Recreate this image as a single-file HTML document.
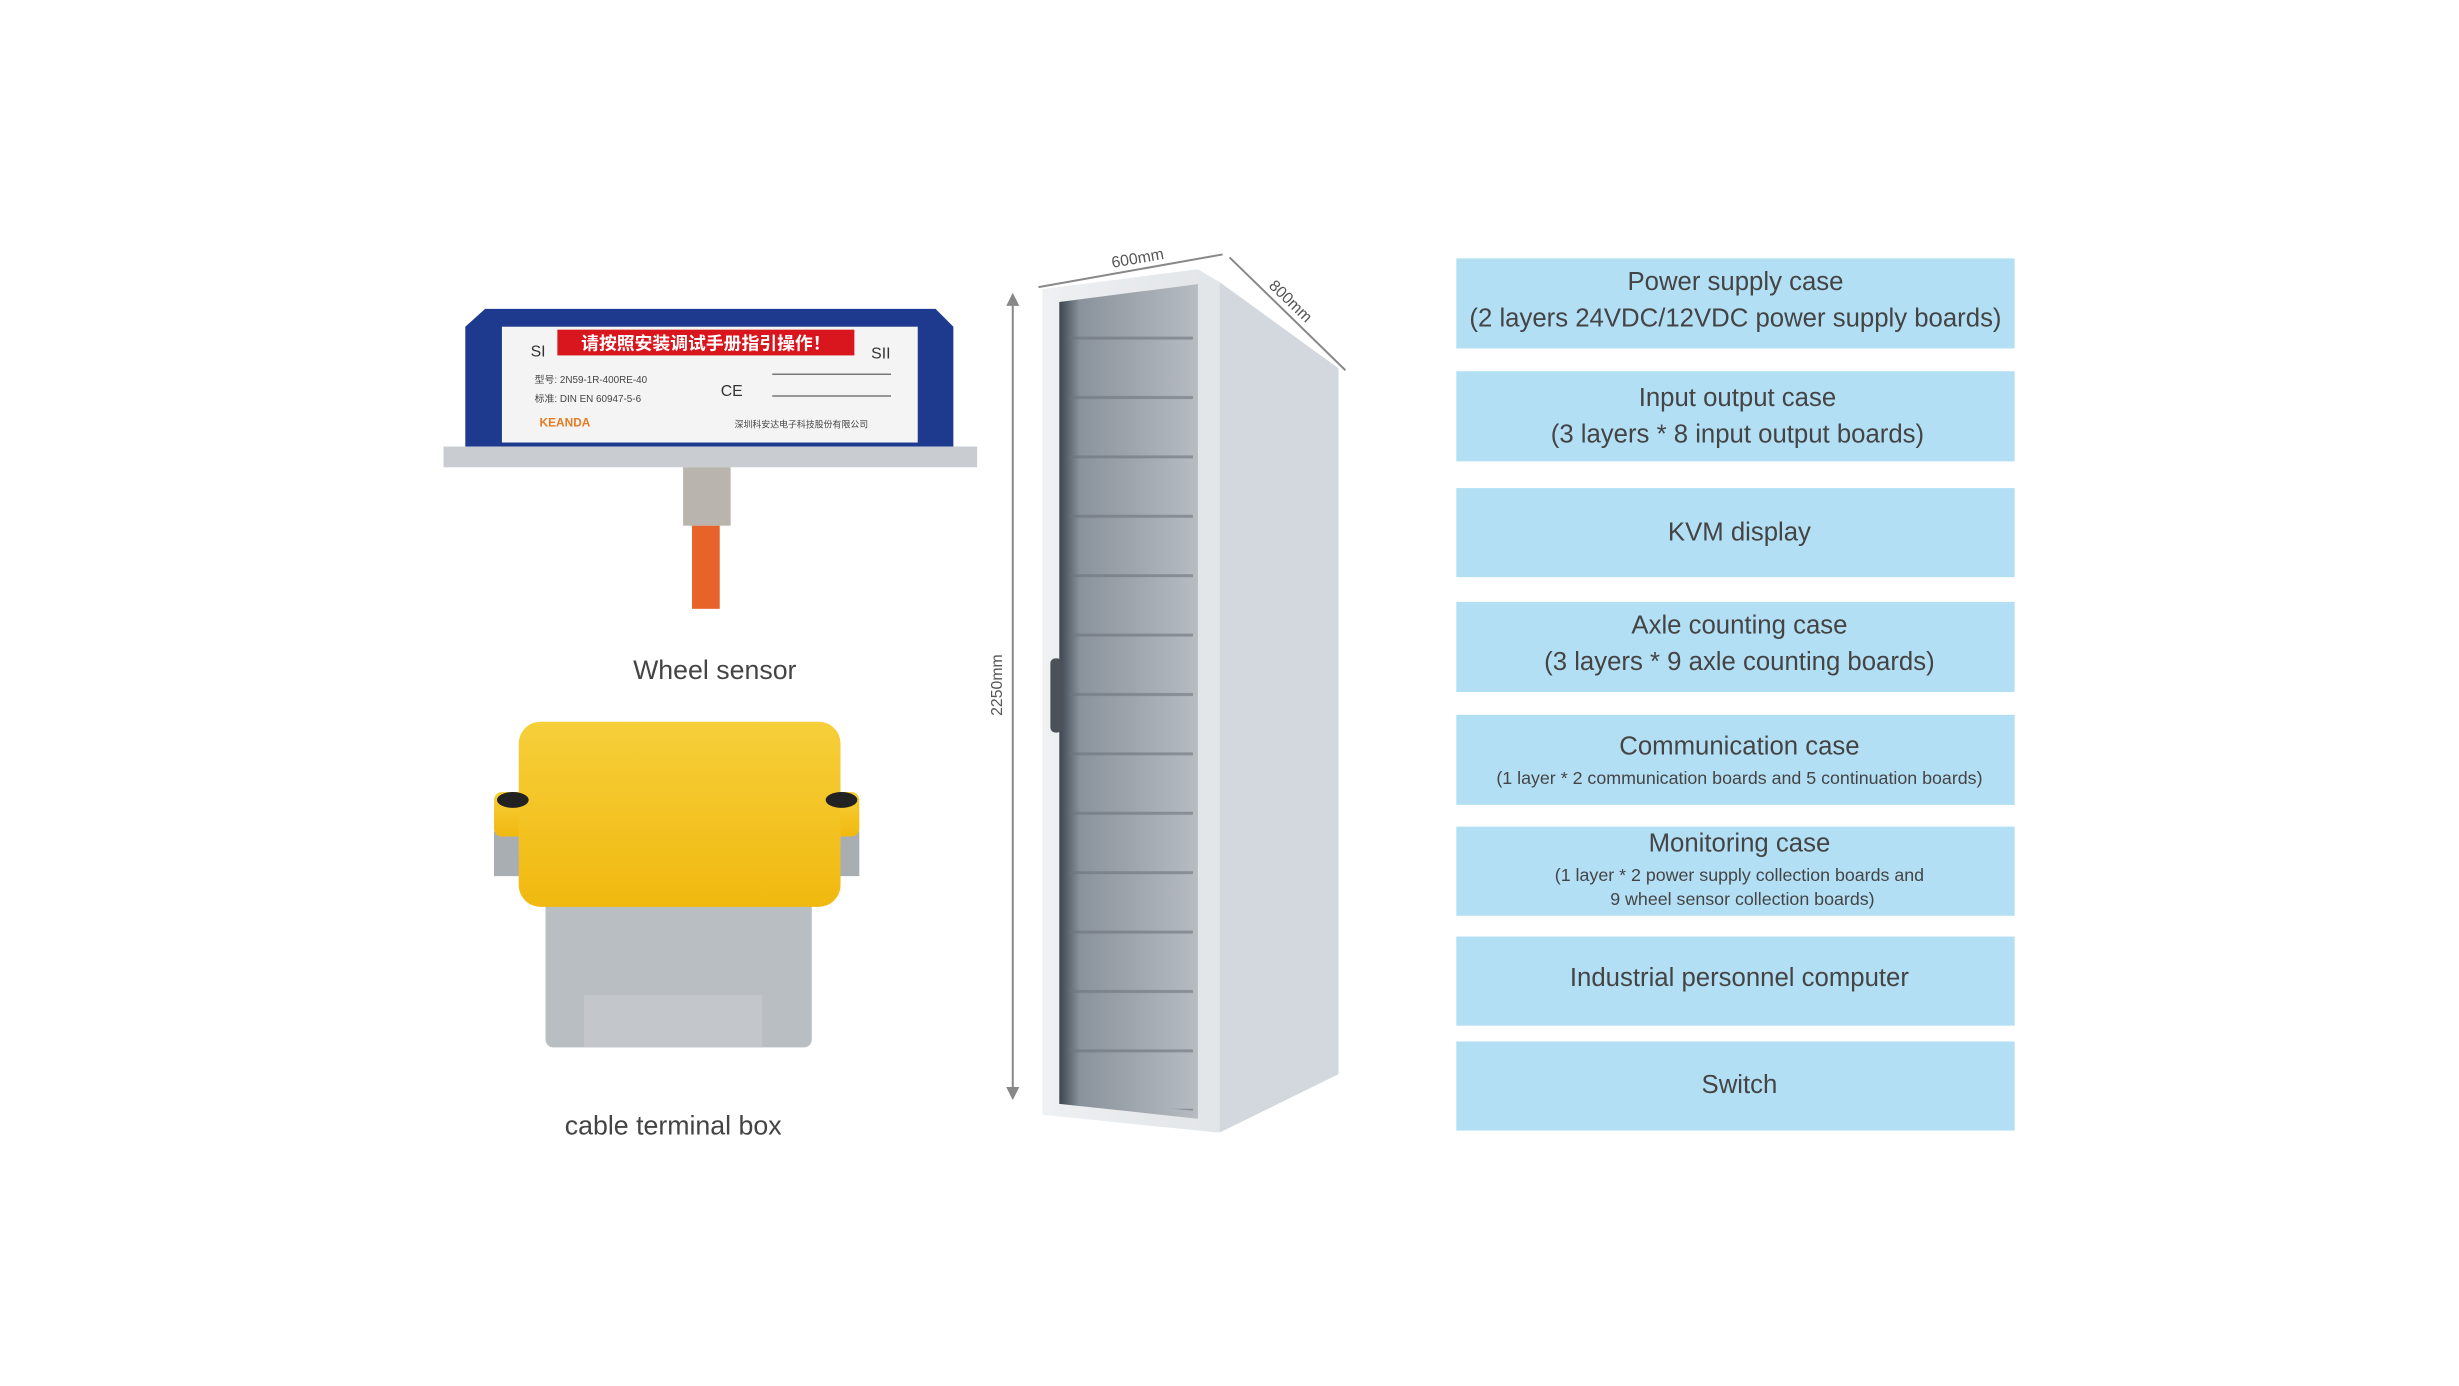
<!DOCTYPE html>
<html><head><meta charset="utf-8"><style>
html,body{margin:0;padding:0;background:#fff;}
svg{display:block;font-family:"Liberation Sans","Noto Sans CJK SC",sans-serif;}
</style></head><body>
<svg width="2459" height="1386" viewBox="0 0 2459 1386" xmlns="http://www.w3.org/2000/svg">
<defs>
<linearGradient id="yel" x1="0" y1="0" x2="0" y2="1"><stop offset="0" stop-color="#f6cf3a"/><stop offset="1" stop-color="#f1b90f"/></linearGradient>
<linearGradient id="cab" x1="0" y1="0" x2="1" y2="0"><stop offset="0" stop-color="#eef0f2"/><stop offset="1" stop-color="#d9dde2"/></linearGradient>
<linearGradient id="door" x1="0" y1="0" x2="1" y2="0"><stop offset="0" stop-color="#3d4650"/><stop offset="0.15" stop-color="#8a939c"/><stop offset="1" stop-color="#b7bcc2"/></linearGradient>
<pattern id="rows" width="10" height="60" patternUnits="userSpaceOnUse"><rect width="10" height="60" fill="none"/><rect y="40" width="10" height="3" fill="#6c737b"/></pattern>
</defs>
<g transform="scale(0.99)">
<!-- wheel sensor -->
<rect x="448" y="451" width="539" height="21" fill="#c9cdd1"/>
<path d="M470 330 L490 312 L945 312 L963 330 L963 451 L470 451 Z" fill="#1d3a8f"/>
<rect x="507" y="330" width="420" height="117" fill="#f4f4f4"/>
<rect x="563" y="333" width="300" height="26" fill="#d9161d"/>
<text x="713" y="353" font-size="18" fill="#fff" text-anchor="middle" font-weight="bold">请按照安装调试手册指引操作！</text>
<text x="536" y="360" font-size="16" fill="#333">SI</text>
<text x="880" y="362" font-size="16" fill="#333">SII</text>
<text x="540" y="387" font-size="10" fill="#444">型号: 2N59-1R-400RE-40</text>
<text x="540" y="406" font-size="10" fill="#444">标准: DIN EN 60947-5-6</text>
<text x="728" y="400" font-size="16" fill="#333">CE</text>
<text x="545" y="431" font-size="12" fill="#e87a22" font-weight="bold">KEANDA</text>
<text x="742" y="432" font-size="9" fill="#444">深圳科安达电子科技股份有限公司</text>
<path d="M780 378 h120 M780 400 h120" stroke="#777" stroke-width="1.5"/>
<rect x="690" y="472" width="48" height="59" fill="#b9b5ae"/>
<rect x="699" y="531" width="28" height="84" fill="#e8632a"/>
<text x="722" y="686" font-size="27" fill="#444" text-anchor="middle">Wheel sensor</text>
<!-- terminal box -->
<rect x="551" y="906" width="269" height="152" rx="8" fill="#b9bec3"/>
<rect x="499" y="840" width="369" height="45" fill="#a9aeb3"/>
<rect x="499" y="800" width="369" height="45" rx="8" fill="url(#yel)"/>
<rect x="524" y="729" width="325" height="187" rx="22" fill="url(#yel)"/>
<ellipse cx="518" cy="808" rx="16" ry="8" fill="#222"/><ellipse cx="850" cy="808" rx="16" ry="8" fill="#222"/>
<rect x="590" y="1005" width="180" height="53" fill="#c3c7cb"/>
<text x="680" y="1146" font-size="27" fill="#444" text-anchor="middle">cable terminal box</text>
<!-- cabinet -->
<path d="M1053 292 L1210 272 L1352 372 L1352 1085 L1230 1144 L1053 1126 Z" fill="url(#cab)"/>
<path d="M1210 272 L1232 285 L1232 1144 L1210 1138 Z" fill="#e3e6e9"/>
<path d="M1232 285 L1352 372 L1352 1085 L1232 1144 Z" fill="#d3d8de"/>
<path d="M1070 305 L1210 287 L1210 1130 L1070 1115 Z" fill="url(#door)"/>
<path d="M1080 310 L1205 295 L1205 1122 L1080 1110 Z" fill="url(#rows)" opacity="0.6"/>
<rect x="1061" y="665" width="12" height="75" rx="5" fill="#4a5158"/>
<!-- dimensions -->
<g stroke="#888" stroke-width="2" fill="#888">
<line x1="1023" y1="305" x2="1023" y2="1102"/>
<path d="M1018 308 L1023 298 L1028 308 Z M1018 1099 L1023 1109 L1028 1099 Z"/>
<line x1="1049" y1="290" x2="1235" y2="257"/>
<line x1="1242" y1="260" x2="1359" y2="374"/>
</g>
<text x="1150" y="266" font-size="16" fill="#555" text-anchor="middle" transform="rotate(-10 1150 266)">600mm</text>
<text x="1300" y="308" font-size="16" fill="#555" text-anchor="middle" transform="rotate(44 1300 308)">800mm</text>
<text x="1012" y="692" font-size="16" fill="#555" text-anchor="middle" transform="rotate(-90 1012 692)">2250mm</text>
<!-- right boxes -->
<g fill="#b3dff5">
<rect x="1471" y="261" width="564" height="91"/>
<rect x="1471" y="375" width="564" height="91"/>
<rect x="1471" y="493" width="564" height="90"/>
<rect x="1471" y="608" width="564" height="91"/>
<rect x="1471" y="722" width="564" height="91"/>
<rect x="1471" y="835" width="564" height="90"/>
<rect x="1471" y="946" width="564" height="90"/>
<rect x="1471" y="1052" width="564" height="90"/>
</g>
<g fill="#444" text-anchor="middle" font-size="26">
<text x="1753" y="293">Power supply case</text>
<text x="1753" y="330">(2 layers 24VDC/12VDC power supply boards)</text>
<text x="1755" y="410">Input output case</text>
<text x="1755" y="447">(3 layers * 8 input output boards)</text>
<text x="1757" y="546">KVM display</text>
<text x="1757" y="640">Axle counting case</text>
<text x="1757" y="677">(3 layers * 9 axle counting boards)</text>
<text x="1757" y="762">Communication case</text>
<text x="1757" y="860">Monitoring case</text>
<text x="1757" y="996">Industrial personnel computer</text>
<text x="1757" y="1104">Switch</text>
</g>
<g fill="#444" text-anchor="middle" font-size="18">
<text x="1757" y="792">(1 layer * 2 communication boards and 5 continuation boards)</text>
<text x="1757" y="890">(1 layer * 2 power supply collection boards and</text>
<text x="1760" y="914">9 wheel sensor collection boards)</text>
</g>
</g>
</svg>
</body></html>
